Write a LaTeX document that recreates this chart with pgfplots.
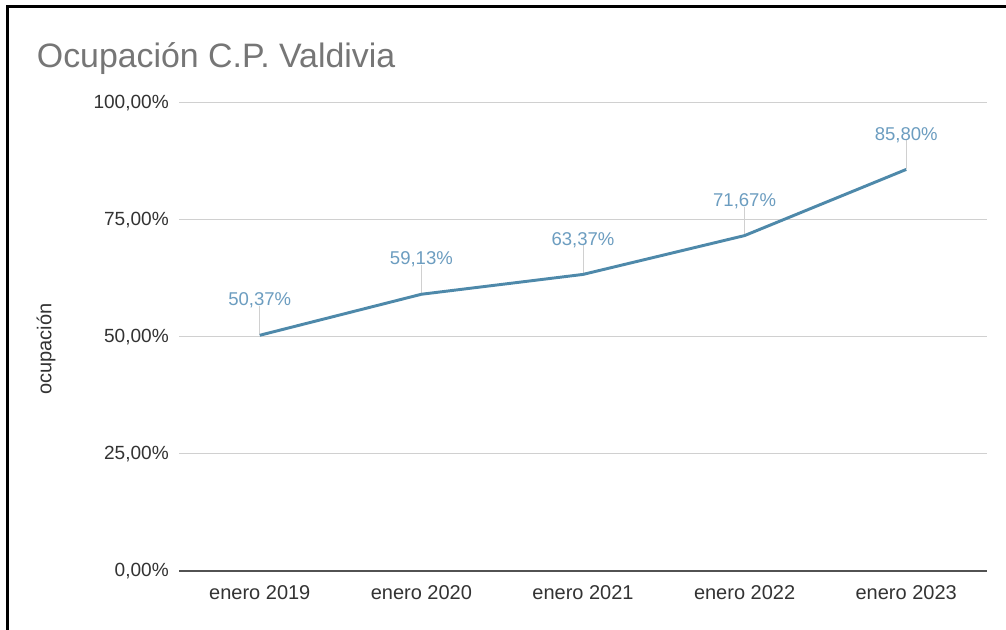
\documentclass[border=0pt]{standalone}
\usepackage{pgfplots}
\pgfplotsset{compat=1.18}
\usepackage{fontspec}
\setmainfont{Liberation Sans}
\definecolor{linec}{HTML}{4E89AA}
\definecolor{labc}{HTML}{6C9DC0}
\definecolor{gridc}{HTML}{D0D0D0}
\definecolor{titc}{HTML}{767676}
\definecolor{tickc}{HTML}{333333}
\begin{document}
\begin{tikzpicture}
\path[use as bounding box] (0,0) rectangle (754.5pt,472.5pt);
\fill[white] (0,0) rectangle (754.5pt,472.5pt);
\draw[black, line width=1.6pt] (5.6pt,0) -- (5.6pt,467.6pt) -- (754.5pt,467.6pt);
\node[anchor=base west, text=titc, font=\fontsize{25.4}{30}\selectfont, inner sep=0pt] at (27.5pt,421.5pt) {Ocupación C.P. Valdivia};
\node[rotate=90, text=tickc, font=\fontsize{15}{18}\selectfont, inner sep=0pt] at (34.5pt,210.5pt) {ocupación};
\begin{axis}[
  at={(134.25pt,44.25pt)}, anchor=south west,
  scale only axis, width=606pt, height=351pt,
  xmin=-0.5, xmax=4.5, ymin=0, ymax=100,
  xtick={0,1,2,3,4},
  xticklabels={enero 2019,enero 2020,enero 2021,enero 2022,enero 2023},
  ytick={0,25,50,75,100},
  /pgf/number format/assume math mode=true,
  yticklabel={\pgfmathprintnumber[fixed,fixed zerofill,precision=2,use comma]{\tick}\%},
  ymajorgrids, grid style={gridc, line width=0.75pt},
  axis x line=bottom, axis y line=left,
  y axis line style={draw=none},
  x axis line style={draw=tickc!85!white, line width=1.5pt, -},
  tick style={draw=none},
  tick label style={text=tickc, font=\fontsize{14.3}{17}\selectfont},
  xticklabel style={yshift=-5pt, font=\fontsize{15}{18}\selectfont},
  yticklabel style={xshift=-2pt},
  clip=false,
]
\addplot[draw=none, forget plot, error bars/.cd, y dir=plus, y fixed=6.2,
  error bar style={gridc, line width=0.6pt}, error mark=none]
  coordinates {(0,50.37) (1,59.13) (2,63.37) (3,71.67) (4,85.80)};
\addplot[linec, line width=2.2pt, mark=none,
  point meta=y,
  nodes near coords={\pgfmathprintnumber[fixed,fixed zerofill,precision=2,use comma]{\pgfplotspointmeta}\%},
  nodes near coords style={anchor=base, yshift=22pt, text=labc, font=\fontsize{13.9}{16}\selectfont, inner sep=0pt},
] coordinates {(0,50.37) (1,59.13) (2,63.37) (3,71.67) (4,85.80)};
\end{axis}
\end{tikzpicture}
\end{document}
